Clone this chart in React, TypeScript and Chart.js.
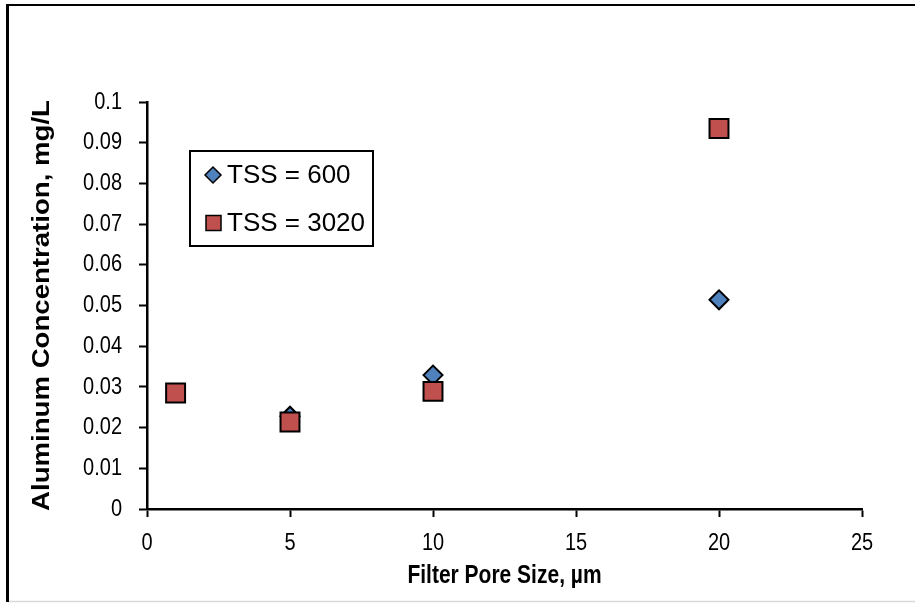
import React, { useEffect, useRef } from 'react';
import { Chart, registerables } from 'chart.js';

Chart.register(...registerables);

const FONT = '"Liberation Sans", Arial, sans-serif';

const seriesNames = ['TSS = 600', 'TSS = 3020'];
const poreSize600 = [5, 10, 20];
const alum600 = [0.0228, 0.0329, 0.0514];
const poreSize3020 = [1, 5, 10, 20];
const alum3020 = [0.0285, 0.0214, 0.0289, 0.0935];

const xTickValues = [0, 5, 10, 15, 20, 25];
const xTickLabels = ['0', '5', '10', '15', '20', '25'];
const yTickValues = [0, 0.01, 0.02, 0.03, 0.04, 0.05, 0.06, 0.07, 0.08, 0.09, 0.1];
const yTickLabels = ['0', '0.01', '0.02', '0.03', '0.04', '0.05', '0.06', '0.07', '0.08', '0.09', '0.1'];

const xTitle = 'Filter Pore Size, µm';
const yTitle = 'Aluminum Concentration, mg/L';

const blue = '#4F81BD';
const red = '#C0504D';

// The reference chart's axis text is stretched vertically (Excel font autoscale);
// mimic it by scaling each axis text draw vertically about its anchor point.
const TEXT_STRETCH_Y = 1.2;

const textStretchPlugin = {
  id: 'textStretch',
  beforeDraw(chart: any) {
    const ctx = chart.ctx as any;
    if (ctx.__origFillText) return;
    const orig = ctx.fillText;
    ctx.__origFillText = orig;
    ctx.fillText = function (text: string, x: number, y: number, maxWidth?: number) {
      const m: DOMMatrix = this.getTransform();
      const p = m.transformPoint(new DOMPoint(x, y));
      this.save();
      const stretch = new DOMMatrix()
        .translate(p.x, p.y)
        .scale(1, TEXT_STRETCH_Y)
        .translate(-p.x, -p.y)
        .multiply(m);
      this.setTransform(stretch);
      if (maxWidth === undefined) orig.call(this, text, x, y);
      else orig.call(this, text, x, y, maxWidth);
      this.restore();
    };
  },
};

const framePlugin = {
  id: 'frame',
  beforeDraw(chart: any) {
    const ctx = chart.ctx;
    ctx.save();
    ctx.fillStyle = '#fff';
    ctx.fillRect(0, 0, chart.width, chart.height);
    ctx.strokeStyle = '#d9d9d9';
    ctx.lineWidth = 1.5;
    ctx.beginPath();
    ctx.moveTo(8, 601.5);
    ctx.lineTo(915, 601.5);
    ctx.stroke();
    ctx.strokeStyle = '#000';
    ctx.lineWidth = 2;
    ctx.beginPath();
    ctx.moveTo(915, 5);
    ctx.lineTo(6, 5);
    ctx.stroke();
    ctx.lineWidth = 3;
    ctx.beginPath();
    ctx.moveTo(7.5, 4);
    ctx.lineTo(7.5, 602);
    ctx.stroke();
    ctx.restore();
  },
};

const legendPlugin = {
  id: 'boxLegend',
  afterDraw(chart: any) {
    const ctx = chart.ctx as any;
    const plainText = (ctx.__origFillText || ctx.fillText) as Function;
    ctx.save();
    ctx.strokeStyle = '#000';
    ctx.lineWidth = 2;
    ctx.fillStyle = '#fff';
    ctx.fillRect(190, 151, 183, 95);
    ctx.strokeRect(190, 151, 183, 95);
    // diamond marker
    const dx = 213, dy = 175, r = 8;
    ctx.beginPath();
    ctx.moveTo(dx - r, dy);
    ctx.lineTo(dx, dy - r);
    ctx.lineTo(dx + r, dy);
    ctx.lineTo(dx, dy + r);
    ctx.closePath();
    ctx.fillStyle = blue;
    ctx.fill();
    ctx.lineWidth = 1.5;
    ctx.stroke();
    // square marker
    const sx = 213.5, sy = 223, h = 7.5;
    ctx.fillStyle = red;
    ctx.fillRect(sx - h, sy - h, 2 * h, 2 * h);
    ctx.strokeRect(sx - h, sy - h, 2 * h, 2 * h);
    ctx.fillStyle = '#000';
    ctx.font = `26px ${FONT}`;
    ctx.textAlign = 'left';
    ctx.textBaseline = 'middle';
    plainText.call(ctx, seriesNames[0], 227, dy + 1);
    plainText.call(ctx, seriesNames[1], 227, sy + 1);
    ctx.restore();
  },
};

export default function App() {
  const ref = useRef<HTMLCanvasElement | null>(null);
  useEffect(() => {
    if (!ref.current) return;
    const chart = new Chart(ref.current, {
      type: 'scatter',
      data: {
        datasets: [
          {
            label: seriesNames[0],
            data: poreSize600.map((x, i) => ({ x, y: alum600[i] })),
            pointStyle: 'rectRot',
            pointRadius: 9.5,
            pointHoverRadius: 9.5,
            backgroundColor: blue,
            borderColor: '#000',
            borderWidth: 2,
            order: 2,
          },
          {
            label: seriesNames[1],
            data: poreSize3020.map((x, i) => ({ x, y: alum3020[i] })),
            pointStyle: 'rect',
            pointRadius: 13.4,
            pointHoverRadius: 13.4,
            backgroundColor: red,
            borderColor: '#000',
            borderWidth: 2,
            order: 1,
          },
        ],
      },
      options: {
        animation: false,
        responsive: false,
        maintainAspectRatio: false,
        devicePixelRatio: 1,
        layout: { padding: { left: 0, right: 53, top: 102, bottom: 0 } },
        plugins: { legend: { display: false }, tooltip: { enabled: false } },
        events: [],
        scales: {
          x: {
            type: 'linear',
            min: 0,
            max: 25,
            afterBuildTicks: (s: any) => {
              s.ticks = xTickValues.map((v) => ({ value: v }));
            },
            afterFit: (s: any) => {
              s.height = 94;
            },
            ticks: {
              font: { family: FONT, size: 20 },
              color: '#000',
              padding: 14,
              maxRotation: 0,
              callback: (_v: any, i: number) => xTickLabels[i],
            },
            grid: {
              drawOnChartArea: false,
              drawTicks: true,
              tickLength: 8,
              tickColor: '#000',
              tickWidth: 2,
            },
            border: { color: '#000', width: 2.5 },
            title: {
              display: true,
              text: xTitle,
              color: '#000',
              font: { family: FONT, size: 21, weight: 'bold' },
              padding: { top: 0, bottom: 14 },
            },
          },
          y: {
            type: 'linear',
            min: 0,
            max: 0.1,
            afterBuildTicks: (s: any) => {
              s.ticks = yTickValues.map((v) => ({ value: v }));
            },
            afterFit: (s: any) => {
              s.width = 147;
            },
            ticks: {
              font: { family: FONT, size: 20 },
              color: '#000',
              padding: 17,
              callback: (_v: any, i: number) => yTickLabels[i],
            },
            grid: {
              drawOnChartArea: false,
              drawTicks: true,
              tickLength: 8,
              tickColor: '#000',
              tickWidth: 2,
            },
            border: { color: '#000', width: 2.5 },
            title: {
              display: true,
              text: yTitle,
              color: '#000',
              font: { family: FONT, size: 23, weight: 'bold' },
              padding: { top: 29, bottom: 0 },
            },
          },
        },
      },
      plugins: [framePlugin, textStretchPlugin, legendPlugin],
    } as any);
    return () => chart.destroy();
  }, []);
  return (
    <div style={{ position: 'absolute', left: 0, top: 0, width: 915, height: 603 }}>
      <canvas ref={ref} width={915} height={603} />
    </div>
  );
}
